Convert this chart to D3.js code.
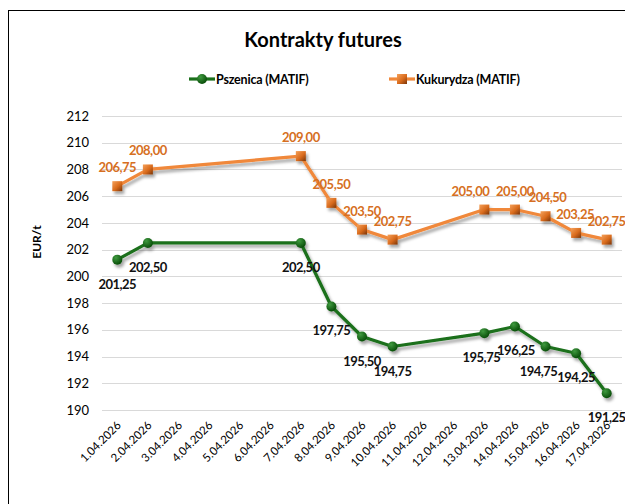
<!DOCTYPE html>
<html>
<head>
<meta charset="utf-8">
<script src="https://cdn.jsdelivr.net/npm/d3@7"></script>
<style>
  body { margin: 0; background: #fff; }
  svg { display: block; }
  text { font-family: Lato, "Open Sans", sans-serif; }
</style>
</head>
<body>
<script>
// dates on the x axis (every day, also days without quotes)
var dates = ["1.04.2026", "2.04.2026", "3.04.2026", "4.04.2026", "5.04.2026", "6.04.2026",
  "7.04.2026", "8.04.2026", "9.04.2026", "10.04.2026", "11.04.2026", "12.04.2026",
  "13.04.2026", "14.04.2026", "15.04.2026", "16.04.2026", "17.04.2026"];

// quoted days only
var quoteDates = ["1.04.2026", "2.04.2026", "7.04.2026", "8.04.2026", "9.04.2026", "10.04.2026",
  "13.04.2026", "14.04.2026", "15.04.2026", "16.04.2026", "17.04.2026"];
var wheat = [201.25, 202.50, 202.50, 197.75, 195.50, 194.75, 195.75, 196.25, 194.75, 194.25, 191.25];
var corn  = [206.75, 208.00, 209.00, 205.50, 203.50, 202.75, 205.00, 205.00, 204.50, 203.25, 202.75];

var yTicks = [190, 192, 194, 196, 198, 200, 202, 204, 206, 208, 210, 212];
var seriesNames = ["Pszenica (MATIF)", "Kukurydza (MATIF)"];

var W = 625, H = 504;
var plot = {left: 102, right: 622, top: 116, bottom: 410};

var svg = d3.select("body").append("svg")
    .attr("width", W)
    .attr("height", H);

var defs = svg.append("defs");

// soft grey shadow like the spreadsheet one
var f = defs.append("filter").attr("id", "shadow")
    .attr("x", "-20%").attr("y", "-20%").attr("width", "140%").attr("height", "160%");
f.append("feDropShadow")
    .attr("dx", 2).attr("dy", 3).attr("stdDeviation", 1.8)
    .attr("flood-color", "#000").attr("flood-opacity", 0.35);

var gG = defs.append("radialGradient").attr("id", "gGreen")
    .attr("cx", "35%").attr("cy", "30%").attr("r", "70%");
gG.append("stop").attr("offset", "0%").attr("stop-color", "#3f9a3f");
gG.append("stop").attr("offset", "100%").attr("stop-color", "#0a4f0a");

var gO = defs.append("linearGradient").attr("id", "gOrange")
    .attr("x1", "0%").attr("y1", "0%").attr("x2", "100%").attr("y2", "100%");
gO.append("stop").attr("offset", "0%").attr("stop-color", "#f5a15a");
gO.append("stop").attr("offset", "55%").attr("stop-color", "#d86a1c");
gO.append("stop").attr("offset", "100%").attr("stop-color", "#7a3508");

// chart frame (runs off the right edge)
svg.append("rect")
    .attr("x", 8.5).attr("y", 10.5)
    .attr("width", 700).attr("height", 600)
    .attr("fill", "none")
    .attr("stroke", "#000")
    .attr("stroke-width", 1);

var x = d3.scalePoint()
    .domain(dates)
    .range([plot.left, plot.right])
    .padding(0.5);

var y = d3.scaleLinear()
    .domain([190, 212])
    .range([plot.bottom, plot.top]);

// grid
svg.append("g")
    .selectAll("line")
    .data(yTicks)
    .join("line")
    .attr("x1", plot.left).attr("x2", plot.right)
    .attr("y1", function(d) { return Math.round(y(d)) + 0.5; })
    .attr("y2", function(d) { return Math.round(y(d)) + 0.5; })
    .attr("stroke", "#d9d9d9")
    .attr("stroke-width", 1);

// y axis (labels only)
var yAxis = svg.append("g")
    .attr("transform", "translate(" + plot.left + ",0)")
    .call(d3.axisLeft(y).tickValues(yTicks).tickSize(0).tickPadding(13));
yAxis.select(".domain").remove();
yAxis.attr("font-family", null);
yAxis.selectAll("text")
    .attr("font-size", 13)
    .attr("fill", "#000");

// x axis (rotated labels)
var xAxis = svg.append("g")
    .attr("transform", "translate(0," + plot.bottom + ")")
    .call(d3.axisBottom(x).tickSize(0).tickPadding(0));
xAxis.select(".domain").remove();
xAxis.attr("font-family", null);
xAxis.selectAll("text")
    .attr("font-size", 11.5)
    .attr("fill", "#000")
    .attr("text-anchor", "end")
    .attr("dy", null)
    .attr("y", 0)
    .attr("transform", "translate(4,16) rotate(-45)");

// axis title
svg.append("text")
    .attr("transform", "translate(41,242) rotate(-90)")
    .attr("text-anchor", "middle")
    .attr("font-size", 12)
    .attr("font-weight", "bold")
    .text("EUR/t");

// title
svg.append("text")
    .attr("x", 323).attr("y", 47)
    .attr("text-anchor", "middle")
    .attr("font-size", 20)
    .attr("font-weight", "bold")
    .text("Kontrakty futures");

var wheatData = quoteDates.map(function(d, i) { return {date: d, value: wheat[i]}; });
var cornData = quoteDates.map(function(d, i) { return {date: d, value: corn[i]}; });

var line = d3.line()
    .x(function(d) { return x(d.date); })
    .y(function(d) { return y(d.value); });

var green = "#1a6f1a", orange = "#f0883a";
var fmt = function(v) { return d3.format(".2f")(v).replace(".", ","); };

// series: lines + markers, drawn with shadow
function drawSeries(data, color, marker) {
  var g = svg.append("g").attr("filter", "url(#shadow)");
  g.append("path")
      .datum(data)
      .attr("fill", "none")
      .attr("stroke", color)
      .attr("stroke-width", 3.2)
      .attr("stroke-linejoin", "round")
      .attr("d", line);
  if (marker == "circle") {
    g.selectAll("circle")
        .data(data)
        .join("circle")
        .attr("cx", function(d) { return x(d.date); })
        .attr("cy", function(d) { return y(d.value); })
        .attr("r", 5)
        .attr("fill", "url(#gGreen)");
  } else {
    g.selectAll("rect")
        .data(data)
        .join("rect")
        .attr("x", function(d) { return x(d.date) - 5; })
        .attr("y", function(d) { return y(d.value) - 5; })
        .attr("width", 10).attr("height", 10)
        .attr("fill", "url(#gOrange)");
  }
}
drawSeries(wheatData, green, "circle");
drawSeries(cornData, orange, "square");

// data labels (a few nudged as in the original, to keep them apart)
var cornNudge = {"13.04.2026": -14, "15.04.2026": 2, "16.04.2026": -1};
var wheatNudge = {"13.04.2026": -3, "14.04.2026": 1, "15.04.2026": -7};

svg.append("g")
    .selectAll("text")
    .data(cornData)
    .join("text")
    .attr("x", function(d) { return x(d.date) + (cornNudge[d.date] || 0); })
    .attr("y", function(d) { return y(d.value) - 14; })
    .attr("text-anchor", "middle")
    .attr("font-size", 13)
    .attr("font-weight", "bold")
    .attr("letter-spacing", -0.5)
    .attr("fill", "#d66f22")
    .text(function(d) { return fmt(d.value); });

svg.append("g")
    .selectAll("text")
    .data(wheatData)
    .join("text")
    .attr("x", function(d) { return x(d.date) + (wheatNudge[d.date] || 0); })
    .attr("y", function(d) { return y(d.value) + 29; })
    .attr("text-anchor", "middle")
    .attr("font-size", 13)
    .attr("font-weight", "bold")
    .attr("letter-spacing", -0.5)
    .attr("fill", "#111")
    .text(function(d) { return fmt(d.value); });

// legend
var legend = svg.append("g");
var legendItems = [
  {name: seriesNames[0], color: green, marker: "circle", x: 189},
  {name: seriesNames[1], color: orange, marker: "square", x: 389}
];
legendItems.forEach(function(it) {
  var lg = legend.append("g").attr("transform", "translate(" + it.x + ",79)");
  lg.append("line")
      .attr("x1", 0).attr("x2", 26)
      .attr("stroke", it.color).attr("stroke-width", 3.2);
  if (it.marker == "circle") {
    lg.append("circle").attr("cx", 13).attr("r", 5).attr("fill", "url(#gGreen)");
  } else {
    lg.append("rect").attr("x", 8).attr("y", -5).attr("width", 10).attr("height", 10)
        .attr("fill", "url(#gOrange)");
  }
  lg.append("text")
      .attr("x", 27).attr("y", 5)
      .attr("font-size", 12.5)
      .attr("font-weight", "bold")
      .attr("letter-spacing", -0.2)
      .text(it.name);
});
</script>
</body>
</html>
